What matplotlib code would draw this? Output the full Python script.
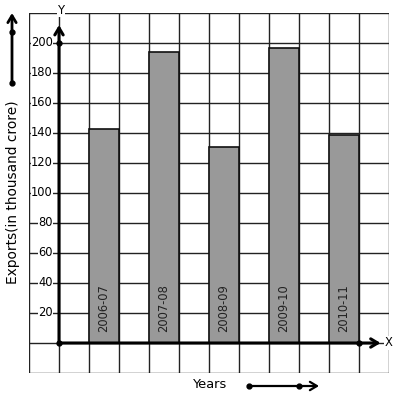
import matplotlib
matplotlib.use("Agg")
import matplotlib.pyplot as plt

years = ["2006-07", "2007-08", "2008-09", "2009-10", "2010-11"]
exports = [143, 194, 131, 197, 139]
ytick_vals = [20, 40, 60, 80, 100, 120, 140, 160, 180, 200]

W, H = 397, 399
fig = plt.figure(figsize=(W / 100, H / 100), dpi=100)
ax = fig.add_axes([29 / W, (H - 373) / H, 360 / W, 360 / H])
ax.set_xlim(-1, 11)
ax.set_ylim(-20, 220)

# grid
for gx in range(-1, 12):
    ax.axvline(gx, color="#222222", lw=1.0, zorder=1)
for gy in range(-20, 221, 20):
    ax.axhline(gy, color="#222222", lw=1.0, zorder=1)

# bars
xpos = [1.5 + 2 * i for i in range(len(years))]
ax.bar(xpos, exports, width=1.0, color="#999999", edgecolor="#111111",
       linewidth=1.2, zorder=2)
for x, lab in zip(xpos, years):
    ax.text(x, 7, lab, rotation=90, ha="center", va="bottom", fontsize=8.3,
            color="#222222", zorder=3)

# axes with arrows
ax.annotate("", xy=(0, 212), xytext=(0, 0),
            arrowprops=dict(arrowstyle="->,head_length=0.5,head_width=0.3",
                            lw=2.2, color="black", shrinkA=0, shrinkB=0), zorder=4)
ax.annotate("", xy=(10.72, 0), xytext=(0, 0),
            arrowprops=dict(arrowstyle="->,head_length=0.5,head_width=0.3",
                            lw=2.2, color="black", shrinkA=0, shrinkB=0), zorder=4)
ax.plot([0, 0, 10], [0, 200, 0], "o", color="black", ms=3.5, zorder=5)

# tick labels with white background
for v in ytick_vals:
    ax.text(-0.2, v, str(v), ha="right", va="center", fontsize=8.3,
            bbox=dict(facecolor="white", edgecolor="none", pad=0.3), zorder=3)
ax.text(0.07, 222, "Y", ha="center", va="center", fontsize=8.3,
        bbox=dict(facecolor="white", edgecolor="none", pad=0.3), zorder=3)
ax.text(10.98, 0, "X", ha="center", va="center", fontsize=8.3,
        bbox=dict(facecolor="white", edgecolor="none", pad=0.3), zorder=3)

ax.set_xticks([])
ax.set_yticks([])
for s in ax.spines.values():
    s.set_visible(False)
ax.set_clip_on(False)

# labels
fig.text(13 / W, (H - 192.5) / H, "Exports(in thousand crore)", rotation=90,
         ha="center", va="center", fontsize=9.9)
fig.text(210 / W, (H - 385) / H, "Years", ha="center", va="center", fontsize=9.4)

# decorative arrows
fig_ax = fig.add_axes([0, 0, 1, 1], facecolor="none")
fig_ax.set_xlim(0, W)
fig_ax.set_ylim(H, 0)
fig_ax.axis("off")
fig_ax.annotate("", xy=(12, 13), xytext=(12, 83),
                arrowprops=dict(arrowstyle="->,head_length=0.5,head_width=0.3",
                                lw=2.0, color="black", shrinkA=0, shrinkB=0))
fig_ax.plot([12, 12], [32, 83], "o", color="black", ms=3.5)
fig_ax.annotate("", xy=(319, 386), xytext=(249, 386),
                arrowprops=dict(arrowstyle="->,head_length=0.5,head_width=0.3",
                                lw=1.6, color="black", shrinkA=0, shrinkB=0))
fig_ax.plot([249, 299], [386, 386], "o", color="black", ms=3.5)

fig.savefig("out.png", dpi=100)
